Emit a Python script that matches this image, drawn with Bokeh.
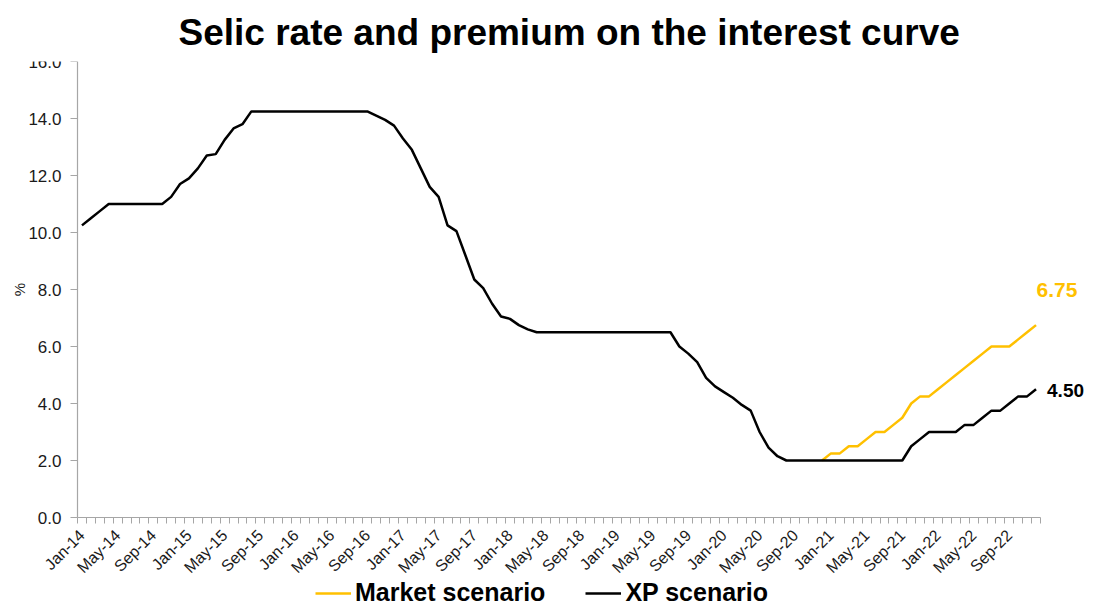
import math
import pandas as pd
from bokeh.plotting import figure
from bokeh.models import Range1d, FixedTicker, Legend, LegendItem, Label
from bokeh.core.properties import value
from bokeh.embed import file_html
from bokeh.resources import INLINE

# ---------------- data ----------------
months = [d.strftime("%b-%y") for d in pd.date_range("2014-01-01", "2022-12-01", freq="MS")]

xp_scenario = [
    10.25, 10.5, 10.75, 11.0, 11.0, 11.0, 11.0, 11.0, 11.0, 11.0,      # 2014 Jan-Oct
    11.25, 11.7,                                                       # Nov-Dec 14
    11.9, 12.25, 12.7, 12.75, 13.25, 13.65, 13.8, 14.25,               # Jan-Aug 15
    14.25, 14.25, 14.25, 14.25, 14.25, 14.25, 14.25, 14.25, 14.25,
    14.25, 14.25, 14.25, 14.25,                                        # Sep 15 - Sep 16
    14.1, 13.95, 13.75,                                                # Oct-Dec 16
    13.3, 12.9, 12.25, 11.6, 11.25, 10.25, 10.05, 9.2, 8.35, 8.05,
    7.5, 7.05,                                                         # 2017
    6.97, 6.75, 6.6,                                                   # Jan-Mar 18
    6.5, 6.5, 6.5, 6.5, 6.5, 6.5, 6.5, 6.5, 6.5, 6.5, 6.5, 6.5,
    6.5, 6.5, 6.5, 6.5,                                                # Apr 18 - Jul 19
    6.0, 5.75, 5.45, 4.9, 4.6,                                         # Aug-Dec 19
    4.4, 4.2, 3.95, 3.75, 3.0, 2.45, 2.15, 2.0,                        # Jan-Aug 20
    2.0, 2.0, 2.0, 2.0, 2.0, 2.0, 2.0, 2.0, 2.0, 2.0, 2.0, 2.0, 2.0,   # Sep 20 - Sep 21
    2.5, 2.75, 3.0,                                                    # Oct-Dec 21
    3.0, 3.0, 3.0, 3.25, 3.25, 3.5, 3.75, 3.75, 4.0, 4.25, 4.25, 4.5,  # 2022
]

market_start = "Dec-20"
market_scenario = [
    2.0,                                                               # Dec-20
    2.25, 2.25, 2.5, 2.5, 2.75, 3.0, 3.0, 3.25, 3.5, 4.0, 4.25, 4.25,  # 2021
    4.5, 4.75, 5.0, 5.25, 5.5, 5.75, 6.0, 6.0, 6.0, 6.25, 6.5, 6.75,   # 2022
]

y_ticks = [0, 2, 4, 6, 8, 10, 12, 14, 16]
y_labels = [f"{t:.1f}" for t in y_ticks]
y_max = 16
label_every = 4

# ---------------- derived ----------------
n = len(months)
xp_x = list(range(n))
m0 = months.index(market_start)
market_x = list(range(m0, m0 + len(market_scenario)))
label_pos = list(range(0, n, label_every))
label_txt = [months[i] for i in label_pos]

ORANGE = "#FFC000"
FONT = "Liberation Sans"
AXIS_GRAY = "#A6A6A6"
TXT = "#1a1a1a"

# layout (pixels)
LEFT = 10                # canvas left border
AXIS_LEFT = 77           # where the value axis sits
AXIS_PX = 963            # pixel length of the category axis
FRAME_W = 1085 - LEFT
PLOT_H = 456             # pixel height of the 0..16 value axis
FRAME_H = 546            # frame extends down to hold the rotated labels and legend
px_per_cat = AXIS_PX / n
x_start = -0.5 - (AXIS_LEFT - LEFT) / px_per_cat
x_end = x_start + FRAME_W / px_per_cat
y_start = y_max - FRAME_H * y_max / PLOT_H

p = figure(frame_width=FRAME_W, frame_height=FRAME_H,
           x_range=Range1d(x_start, x_end), y_range=Range1d(y_start, y_max),
           output_backend="svg", toolbar_location=None,
           min_border_left=LEFT, min_border_right=0, min_border_top=61, min_border_bottom=0)

p.title.text = "Selic rate and premium on the interest curve"
p.title.align = "left"
p.title.offset = 101 + AXIS_LEFT - LEFT
p.title.standoff = 17
p.title.text_font = FONT
p.title.text_font_size = "37px"
p.title.text_font_style = "bold"
p.title.text_color = "#000000"

p.outline_line_color = None
p.xgrid.visible = False
p.ygrid.visible = False
p.background_fill_color = "white"

# axis base lines, only as long as the categories / value range
p.segment(x0=[-0.5], y0=[0], x1=[n - 0.5], y1=[0], line_color=AXIS_GRAY, line_width=1.2)
p.segment(x0=[-0.5], y0=[0], x1=[-0.5], y1=[y_max], line_color=AXIS_GRAY, line_width=1.2)

r_market = p.line(market_x, market_scenario, line_color=ORANGE, line_width=2.5)
r_xp = p.line(xp_x, xp_scenario, line_color="#000000", line_width=2.5)

# category labels, rotated 45 degrees under the axis
p.text(x=label_pos, y=[0] * len(label_pos), text=label_txt, angle=math.pi / 4,
       text_align="right", text_baseline="middle", x_offset=0, y_offset=15,
       text_font=value(FONT), text_font_size="16px", text_color=TXT)

# value labels left of the value axis
p.text(x=[-0.5] * len(y_ticks), y=y_ticks, text=y_labels,
       text_align="right", text_baseline="middle", x_offset=-16, y_offset=0,
       text_font=value(FONT), text_font_size="17px", text_color=TXT)

# unit label
p.text(x=[-0.5], y=[y_max / 2], text=["%"], angle=math.pi / 2,
       text_align="center", text_baseline="middle", x_offset=-58,
       text_font=value(FONT), text_font_size="15px", text_color=TXT)

# end labels
p.add_layout(Label(x=market_x[-1], y=market_scenario[-1], text=f"{market_scenario[-1]:.2f}",
                   text_color=ORANGE, text_font=FONT, text_font_size="21px", text_font_style="bold",
                   text_align="center", text_baseline="middle", x_offset=21, y_offset=35))
p.add_layout(Label(x=xp_x[-1], y=xp_scenario[-1], text=f"{xp_scenario[-1]:.2f}",
                   text_color="#000000", text_font=FONT, text_font_size="19px", text_font_style="bold",
                   text_align="left", text_baseline="middle", x_offset=11, y_offset=-1))

# x axis: monthly tick marks only, at y = 0
p.xaxis.fixed_location = 0
p.xaxis.ticker = FixedTicker(ticks=[], minor_ticks=[i - 0.5 for i in range(n + 1)])
p.xaxis.major_label_standoff = 0
p.xaxis.major_tick_out = 0
p.xaxis.major_tick_in = 0
p.xaxis.minor_tick_out = 6
p.xaxis.minor_tick_in = 0
p.xaxis.minor_tick_line_color = AXIS_GRAY
p.xaxis.axis_line_color = None

# y axis: tick marks only, at the first category edge
p.yaxis.fixed_location = -0.5
p.yaxis.ticker = FixedTicker(ticks=[], minor_ticks=y_ticks)
p.yaxis.major_label_standoff = 0
p.yaxis.major_tick_out = 0
p.yaxis.major_tick_in = 0
p.yaxis.minor_tick_out = 7
p.yaxis.minor_tick_in = 0
p.yaxis.minor_tick_line_color = AXIS_GRAY
p.yaxis.axis_line_color = None

legend = Legend(items=[LegendItem(label="Market scenario", renderers=[r_market]),
                       LegendItem(label="XP scenario", renderers=[r_xp])],
                orientation="horizontal", location=(238 + AXIS_LEFT - LEFT, 0),
                label_text_font=FONT, label_text_font_size="25px", label_text_font_style="bold",
                label_text_color="#000000", glyph_width=36, glyph_height=20, label_height=20,
                label_standoff=4, spacing=40,
                padding=0, margin=0, border_line_color=None, background_fill_alpha=0)
p.add_layout(legend, "center")

open("out.html", "w").write(file_html(p, INLINE))
